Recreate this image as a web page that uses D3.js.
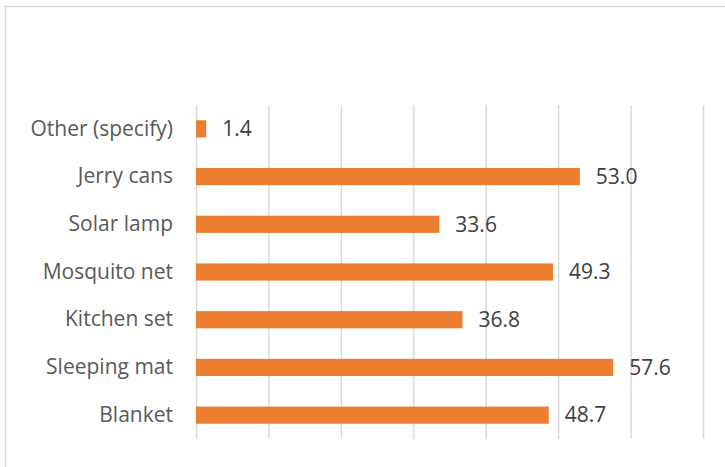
<!DOCTYPE html>
<html><head><meta charset="utf-8">
<script src="https://cdn.jsdelivr.net/npm/d3@7"></script>
<style>body{margin:0;background:#fff}svg{display:block}</style>
</head><body>
<svg id="c" width="725" height="467"></svg>
<script>
const categories = ["Other (specify)", "Jerry cans", "Solar lamp", "Mosquito net", "Kitchen set", "Sleeping mat", "Blanket"];
const values = [1.4, 53.0, 33.6, 49.3, 36.8, 57.6, 48.7];
const xTicks = [0, 10, 20, 30, 40, 50, 60, 70];

const svg = d3.select("#c");
const W = 725, H = 467;
const m = {left: 196, right: 22, top: 105, bottom: 28};

svg.append("rect").attr("x", 5.5).attr("y", 6.5).attr("width", 740).attr("height", 480)
  .attr("fill", "#fff").attr("stroke", "#d9d9d9").attr("stroke-width", 1.5);

const x = d3.scaleLinear().domain([0, 70]).range([m.left, W - m.right]);
const y = d3.scaleBand().domain(categories).range([m.top, H - m.bottom]).paddingInner(0.64).paddingOuter(0.32);

const grid = svg.append("g").attr("transform", `translate(0,${H - m.bottom})`)
  .call(d3.axisBottom(x).tickValues(xTicks).tickSize(-(H - m.bottom - m.top)).tickFormat(""));
grid.select(".domain").remove();
grid.selectAll("line").attr("stroke", "#d9d9d9").attr("stroke-width", 1.5);

svg.selectAll(".bar").data(values).join("rect")
  .attr("x", x(0)).attr("y", (d, i) => y(categories[i]))
  .attr("width", d => x(d) - x(0)).attr("height", y.bandwidth())
  .attr("fill", "#ED7D31");

const yAxis = svg.append("g").attr("transform", `translate(${m.left},0)`)
  .call(d3.axisLeft(y).tickSize(0).tickPadding(23));
yAxis.select(".domain").remove();
yAxis.selectAll("text").attr("font-family", "'Open Sans', sans-serif").attr("font-size", 21)
  .attr("fill", "#595959");

svg.selectAll(".val").data(values).join("text")
  .attr("x", d => x(d) + 16).attr("y", (d, i) => y(categories[i]) + y.bandwidth() / 2)
  .attr("dy", "0.35em").attr("font-family", "'Open Sans', sans-serif").attr("font-size", 21)
  .attr("fill", "#404040").text(d => d.toFixed(1));
</script>
</body></html>
